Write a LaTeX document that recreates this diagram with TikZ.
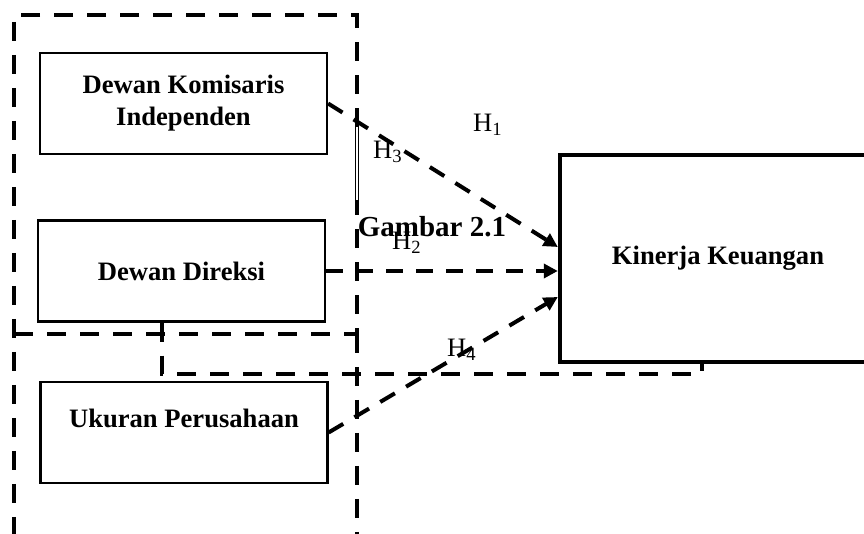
\documentclass[tikz,border=0pt]{standalone}
\usepackage{fontspec}
\setmainfont{Liberation Serif}
\usetikzlibrary{arrows.meta}

\begin{document}
\begin{tikzpicture}[x=0.5pt, y=-0.5pt,
  varbox/.style={draw, line width=1.1pt, minimum width=143.5pt, minimum height=50.5pt,
    inner sep=0pt, align=center, font=\fontsize{13.3}{16}\selectfont\bfseries},
  grouping/.style={line width=2pt, dash pattern=on 9.5pt off 7pt},
  hyp/.style={line width=2pt, dash pattern=on 8.5pt off 6.5pt, -{Triangle[length=7pt,width=7pt]}},
  hlabel/.style={font=\fontsize{13.3}{16}\selectfont}]
\useasboundingbox (0,0) rectangle (864,534);
\clip (0,0) rectangle (864,534);
% Draw grouping frames
\draw[grouping] (357,127) -- (357,15) -- (14,15) -- (14,560);
\draw[grouping] (14,334) -- (357,334) -- (357,200);
\draw[grouping] (357,334) -- (357,560);
\draw[double, line width=0.4pt, double distance=1pt] (357,127) -- (357,200);
% Variables
\node[varbox] (dki) at (183.5,103.5) {Dewan Komisaris\\Independen};
\node[varbox] (dd) at (181.5,271) {Dewan Direksi};
\node[varbox] (up) at (184,432.5) {};
\node[font=\fontsize{13.3}{16}\selectfont\bfseries] (uptext) at (184,418) {Ukuran Perusahaan};
\node[draw, line width=2.2pt, minimum width=158pt, minimum height=103.5pt,
  font=\fontsize{13.3}{16}\selectfont\bfseries] (kk) at (718,258.5) {Kinerja Keuangan};
% Draw hypotheses
\draw[hyp] (dki.east) -- ([yshift=5.75pt]kk.west);
\draw[hyp] (dd.east) -- ([yshift=-6.25pt]kk.west);
\draw[hyp] (up.east) -- ([yshift=-19.25pt]kk.west);
\draw[grouping] ([xshift=-9.75pt]dd.south) -- ++(0,51) -| ([xshift=-8pt]kk.south);
% Labels
\node[hlabel] (h1) at (488,125) {H\textsubscript{1}};
\node[hlabel] (h3) at (388,152) {H\textsubscript{3}};
\node[hlabel] (h2) at (407,243) {H\textsubscript{2}};
\node[hlabel] (h4) at (462,350) {H\textsubscript{4}};
\node[font=\fontsize{14.5}{17}\selectfont\bfseries] (caption) at (432,227) {Gambar 2.1};
\end{tikzpicture}
\end{document}
